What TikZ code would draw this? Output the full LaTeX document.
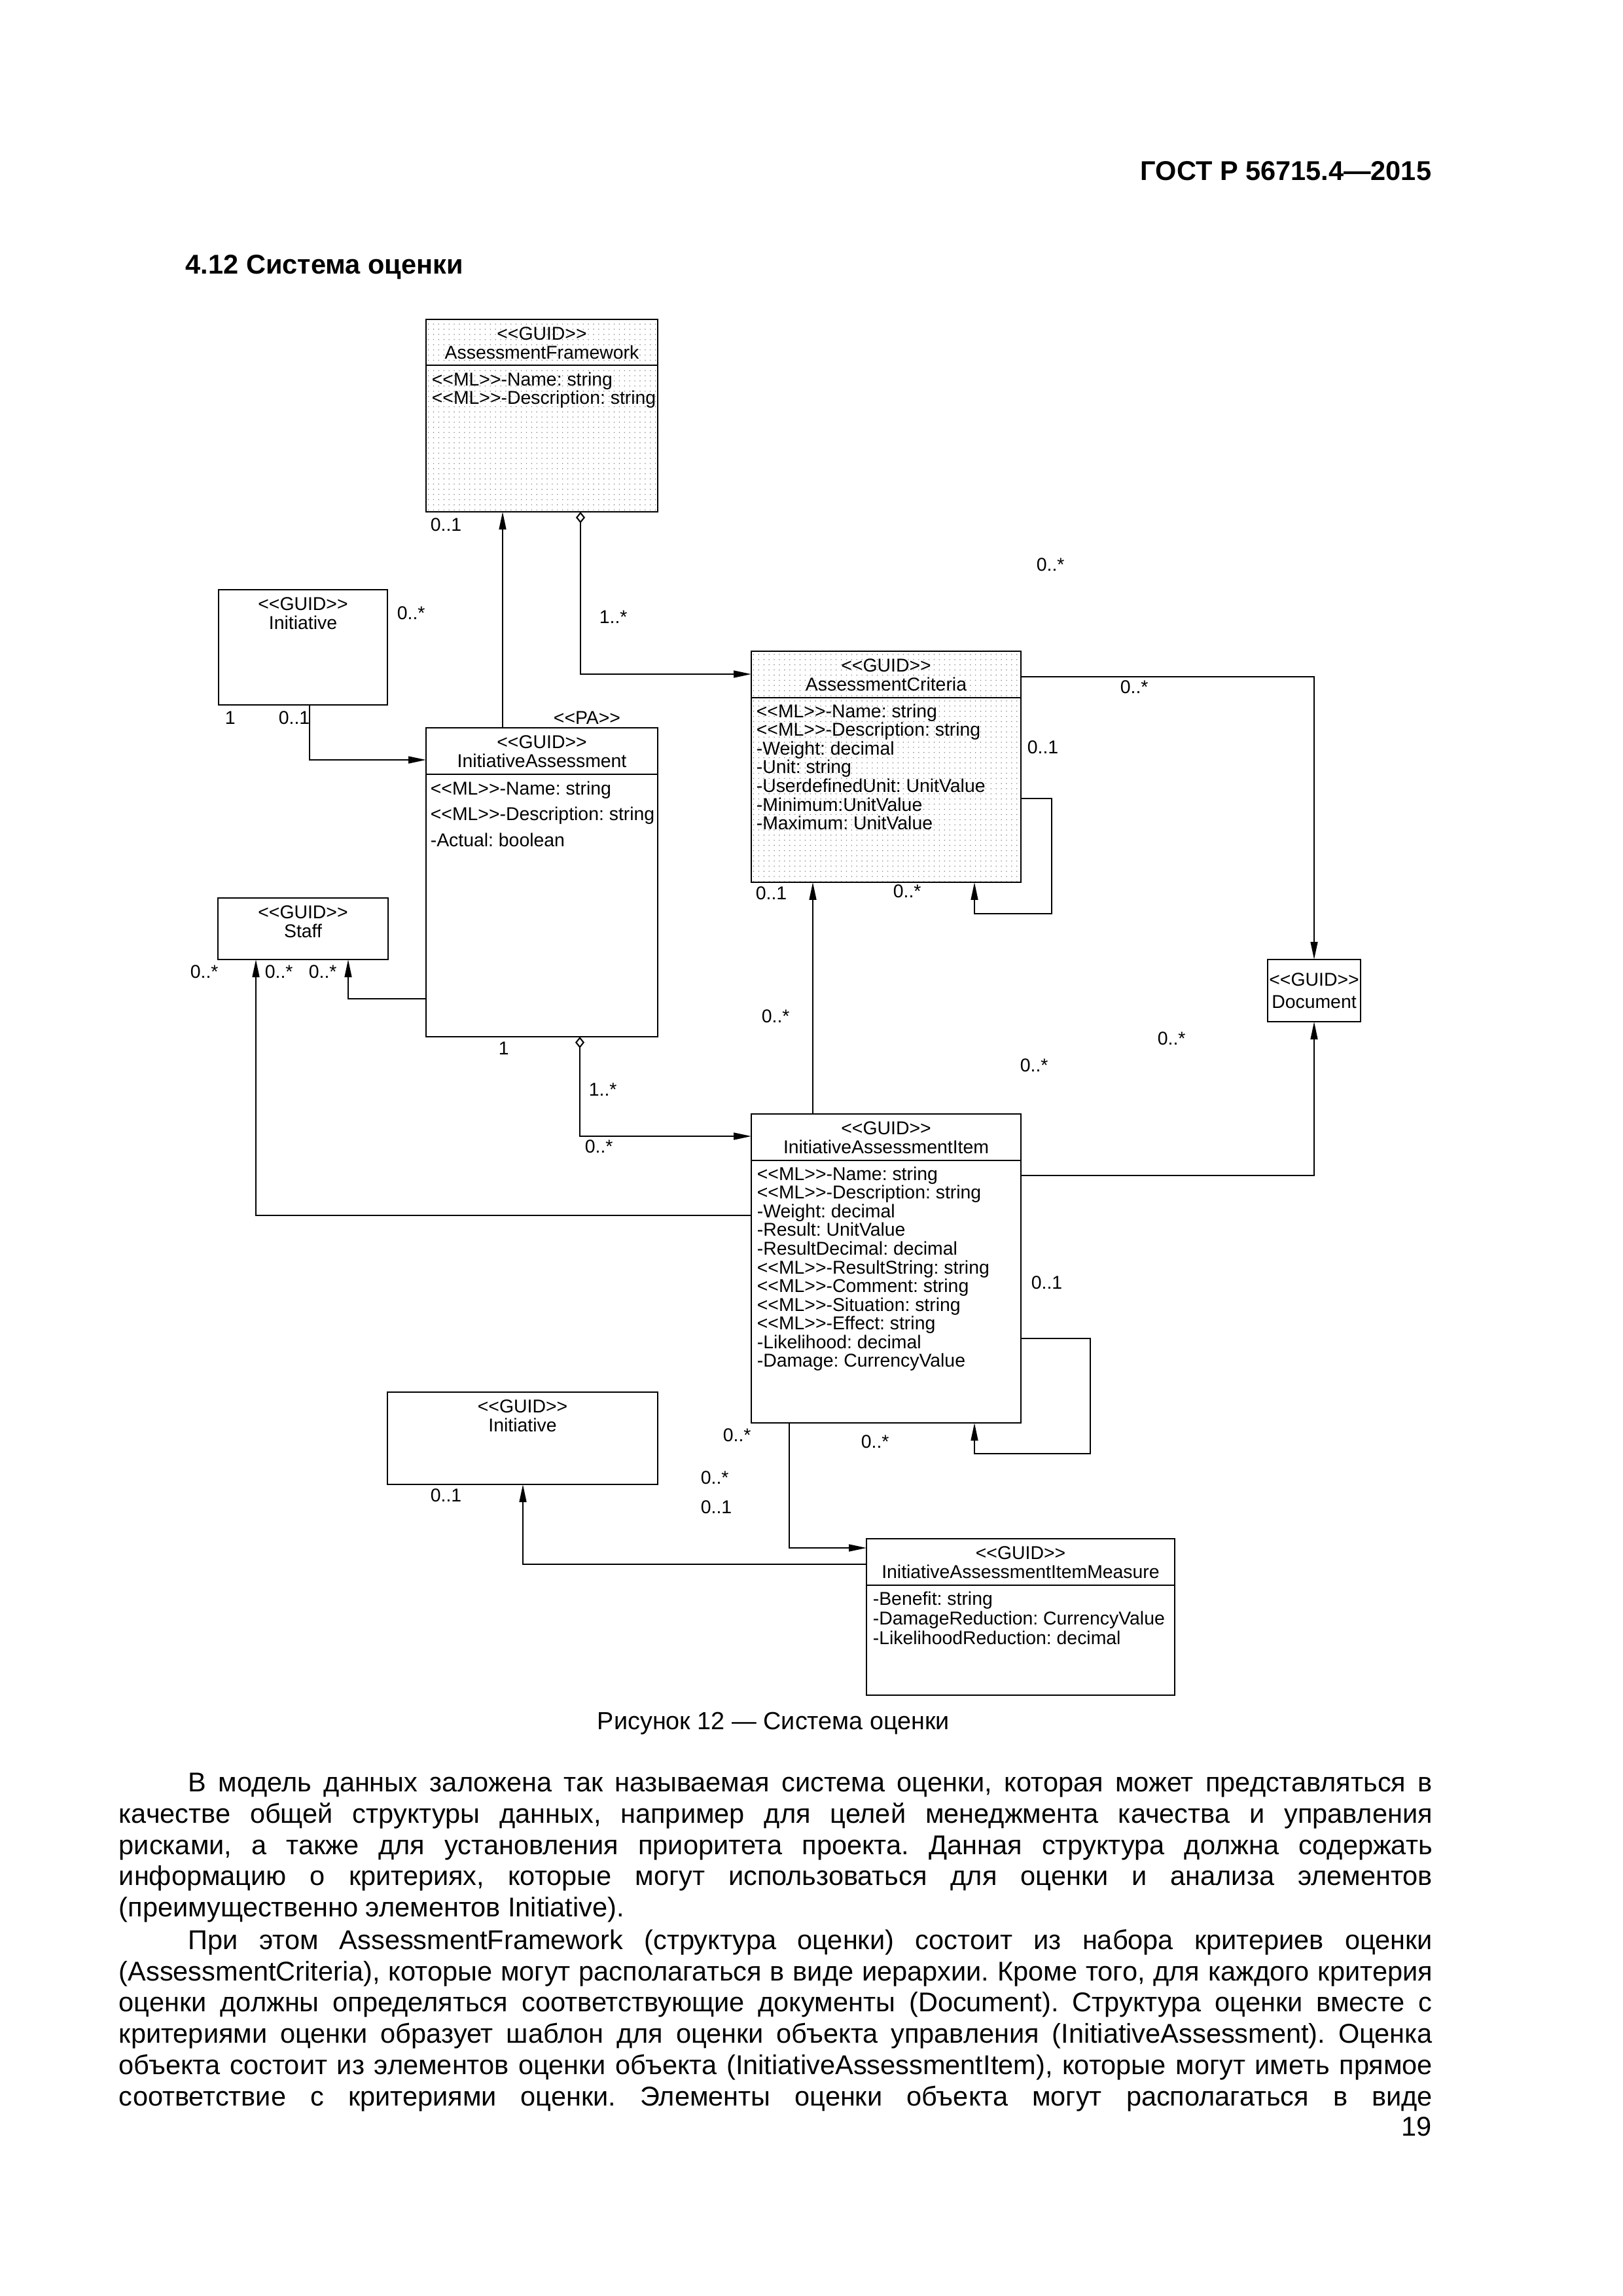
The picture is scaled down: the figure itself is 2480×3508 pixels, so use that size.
\documentclass[tikz,border=0pt]{standalone}
\usepackage{fontspec}
\setmainfont{Liberation Sans}[Ligatures=TeXOff]
\usetikzlibrary{calc, arrows.meta, patterns.meta}
\frenchspacing
\newlength\pxu
\setlength\pxu{0.2409pt}
\newcommand\dia{\fontsize{6.84pt}{6.87pt}\selectfont}
\newcommand\txt{\fontsize{10pt}{11.52pt}\selectfont}
\newcommand\captxt{\fontsize{9.1pt}{11pt}\selectfont}
\newcommand\guid{<<GUID>>}
\tikzset{
cls/.style={draw, line width=0.65pt, inner sep=0, outer sep=0, anchor=north west},
dotcls/.style={cls, pattern={Dots[distance=1.9pt, radius=0.2pt]}, pattern color=gray},
ctitle/.style={anchor=north, inner sep=0, font=\dia, align=center},
attrs/.style={anchor=north west, inner sep=0, font=\dia, align=left},
mult/.style={anchor=west, inner sep=0, font=\dia},
divider/.style={line width=0.65pt},
assoc/.style={line width=0.5pt, -{Triangle[length=6.5pt, width=2.6pt]}},
aggr/.style={line width=0.5pt, {Diamond[open, length=4.2pt, width=3.4pt]}-{Triangle[length=6.5pt, width=2.6pt]}},
pagetext/.style={inner sep=0, font=\txt},
pagebold/.style={inner sep=0, font=\txt\bfseries},
bodytext/.style={pagetext, anchor=north west, align=left}
}
\begin{document}
\begin{tikzpicture}[x=\pxu, y=-\pxu]
\useasboundingbox (0,0) rectangle (2480,3508);

% page head
\node[pagebold, anchor=base east] (gost) at (2188,275) {ГОСТ Р 56715.4—2015};
\node[pagebold, anchor=base west] (sect) at (283,418) {4.12 Система оценки};

% classes
\node[dotcls, minimum width=354*\pxu, minimum height=294*\pxu] (af) at (651,488) {};
\node[ctitle] (af-t) at ($(af.north)+(0,11)$) {\guid\\AssessmentFramework};
\draw[divider] ($(af.north west)+(0,70)$) -- ($(af.north east)+(0,70)$);
\node[attrs] (af-a) at ($(af.north west)+(8,80)$) {<<ML>>-Name: string\\<<ML>>-Description: string};

\node[cls, minimum width=258*\pxu, minimum height=176*\pxu] (ini) at (334,901) {};
\node[ctitle] (ini-t) at ($(ini.north)+(0,11)$) {\guid\\Initiative};

\node[cls, minimum width=354*\pxu, minimum height=472*\pxu] (ia) at (651,1112) {};
\node[ctitle] (ia-t) at ($(ia.north)+(0,11)$) {\guid\\InitiativeAssessment};
\draw[divider] ($(ia.north west)+(0,71)$) -- ($(ia.north east)+(0,71)$);
\node[attrs] (ia-a) at ($(ia.north west)+(6,81)$) {<<ML>>-Name: string\\[2.6pt]<<ML>>-Description: string\\[2.6pt]-Actual: boolean};
\node[font=\dia, inner sep=0] (ia-pa) at (897,1097) {<<PA>>};

\node[dotcls, minimum width=412*\pxu, minimum height=353*\pxu] (ac) at (1148,995) {};
\node[ctitle] (ac-t) at ($(ac.north)+(0,11)$) {\guid\\AssessmentCriteria};
\draw[divider] ($(ac.north west)+(0,71)$) -- ($(ac.north east)+(0,71)$);
\node[attrs] (ac-a) at ($(ac.north west)+(7,80)$) {<<ML>>-Name: string\\<<ML>>-Description: string\\-Weight: decimal\\-Unit: string\\-UserdefinedUnit: UnitValue\\-Minimum:UnitValue\\-Maximum: UnitValue};

\node[cls, minimum width=260*\pxu, minimum height=94*\pxu] (staff) at (333,1372) {};
\node[ctitle] (staff-t) at ($(staff.north)+(0,11)$) {\guid\\Staff};

\node[cls, minimum width=142*\pxu, minimum height=95*\pxu] (doc) at (1937,1466) {};
\node[font=\dia, inner sep=0, align=center] (doc-t) at (doc.center) {\guid\\[1.2pt]Document};

\node[cls, minimum width=412*\pxu, minimum height=472*\pxu] (iai) at (1148,1702) {};
\node[ctitle] (iai-t) at ($(iai.north)+(0,11)$) {\guid\\InitiativeAssessmentItem};
\draw[divider] ($(iai.north west)+(0,71)$) -- ($(iai.north east)+(0,71)$);
\node[attrs] (iai-a) at ($(iai.north west)+(8,80)$) {<<ML>>-Name: string\\<<ML>>-Description: string\\-Weight: decimal\\-Result: UnitValue\\-ResultDecimal: decimal\\<<ML>>-ResultString: string\\<<ML>>-Comment: string\\<<ML>>-Situation: string\\<<ML>>-Effect: string\\-Likelihood: decimal\\-Damage: CurrencyValue};

\node[cls, minimum width=413*\pxu, minimum height=141*\pxu] (ini2) at (592,2127) {};
\node[ctitle] (ini2-t) at ($(ini2.north)+(0,11)$) {\guid\\Initiative};

\node[cls, minimum width=471*\pxu, minimum height=239*\pxu] (meas) at (1324,2351) {};
\node[ctitle] (meas-t) at ($(meas.north)+(0,11)$) {\guid\\InitiativeAssessmentItemMeasure};
\draw[divider] ($(meas.north west)+(0,71)$) -- ($(meas.north east)+(0,71)$);
\node[attrs] (meas-a) at ($(meas.north west)+(9,80)$) {-Benefit: string\\[0.4pt]-DamageReduction: CurrencyValue\\[0.4pt]-LikelihoodReduction: decimal};

% connectors
\draw[assoc] ($(ia.north west)+(117,0)$) -- ($(af.south west)+(117,0)$);
\draw[aggr] ($(af.south west)+(236,0)$) |- ($(ac.north west)+(0,35)$);
\draw[assoc] ($(ini.south west)+(139,0)$) |- ($(ia.north west)+(0,49)$);
\draw[assoc] ($(ac.north east)+(0,39)$) -| (doc.north);
\draw[assoc] ($(ac.north east)+(0,225)$) -| ($(ac.south east)+(47,48)$) -| ($(ac.south west)+(341,0)$);
\draw[assoc] ($(iai.north west)+(94,0)$) -- ($(ac.south west)+(94,0)$);
\draw[assoc] ($(ia.south west)+(0,-58)$) -| ($(staff.south west)+(199,0)$);
\draw[assoc] ($(iai.north west)+(0,155)$) -| ($(staff.south west)+(58,0)$);
\draw[aggr] ($(ia.south west)+(235,0)$) |- ($(iai.north west)+(0,34)$);
\draw[assoc] ($(iai.north east)+(0,94)$) -| (doc.south);
\draw[assoc] ($(iai.north east)+(0,343)$) -| ($(iai.south east)+(106,47)$) -| ($(iai.south west)+(341,0)$);
\draw[assoc] ($(iai.south west)+(58,0)$) |- ($(meas.north west)+(0,14)$);
\draw[assoc] ($(meas.north west)+(0,39)$) -| ($(ini2.south west)+(207,0)$);

% multiplicities
\node[mult] (m1) at (657,802) {0..1};
\node[mult] (m2) at (606,937) {0..*};
\node[mult] (m3) at (915,943) {1..*};
\node[mult] (m4) at (1583,863) {0..*};
\node[mult] (m5) at (1711,1050) {0..*};
\node[mult] (m6) at (343,1097) {1};
\node[mult] (m7) at (425,1097) {0..1};
\node[mult] (m8) at (1569,1142) {0..1};
\node[mult] (m9) at (1154,1365) {0..1};
\node[mult] (m10) at (1364,1362) {0..*};
\node[mult] (m11) at (290,1485) {0..*};
\node[mult] (m12) at (404,1485) {0..*};
\node[mult] (m13) at (471,1485) {0..*};
\node[mult] (m14) at (1163,1553) {0..*};
\node[mult] (m15) at (1768,1587) {0..*};
\node[mult] (m16) at (1558,1628) {0..*};
\node[mult] (m17) at (761,1602) {1};
\node[mult] (m18) at (899,1665) {1..*};
\node[mult] (m19) at (893,1752) {0..*};
\node[mult] (m20) at (1575,1960) {0..1};
\node[mult] (m21) at (1104,2193) {0..*};
\node[mult] (m22) at (1315,2203) {0..*};
\node[mult] (m23) at (1070,2258) {0..*};
\node[mult] (m24) at (1070,2303) {0..1};
\node[mult] (m25) at (657,2285) {0..1};

% caption and text
\node[inner sep=0, font=\captxt, anchor=base] (cap) at (1182,2642) {Рисунок 12 — Система оценки};
\node[bodytext] (par1) at (181,2708) {\hspace*{106\pxu}\makebox[1901\pxu][s]{В модель данных заложена так называемая система оценки, которая может представляться в}\\
\makebox[2007\pxu][s]{качестве общей структуры данных, например для целей менеджмента качества и управления}\\
\makebox[2007\pxu][s]{рисками, а также для установления приоритета проекта. Данная структура должна содержать}\\
\makebox[2007\pxu][s]{информацию о критериях, которые могут использоваться для оценки и анализа элементов}\\
(преимущественно элементов Initiative).};
\node[bodytext] (par2) at (181,2947) {\hspace*{106\pxu}\makebox[1901\pxu][s]{При этом AssessmentFramework (структура оценки) состоит из набора критериев оценки}\\
\makebox[2007\pxu][s]{(AssessmentCriteria), которые могут располагаться в виде иерархии. Кроме того, для каждого критерия}\\
\makebox[2007\pxu][s]{оценки должны определяться соответствующие документы (Document). Структура оценки вместе с}\\
\makebox[2007\pxu][s]{критериями оценки образует шаблон для оценки объекта управления (InitiativeAssessment). Оценка}\\
\makebox[2007\pxu][s]{объекта состоит из элементов оценки объекта (InitiativeAssessmentItem), которые могут иметь прямое}\\
\makebox[2007\pxu][s]{соответствие с критериями оценки. Элементы оценки объекта могут располагаться в виде}};
\node[pagetext, anchor=base east] (pageno) at (2188,3263) {19};
\end{tikzpicture}
\end{document}
